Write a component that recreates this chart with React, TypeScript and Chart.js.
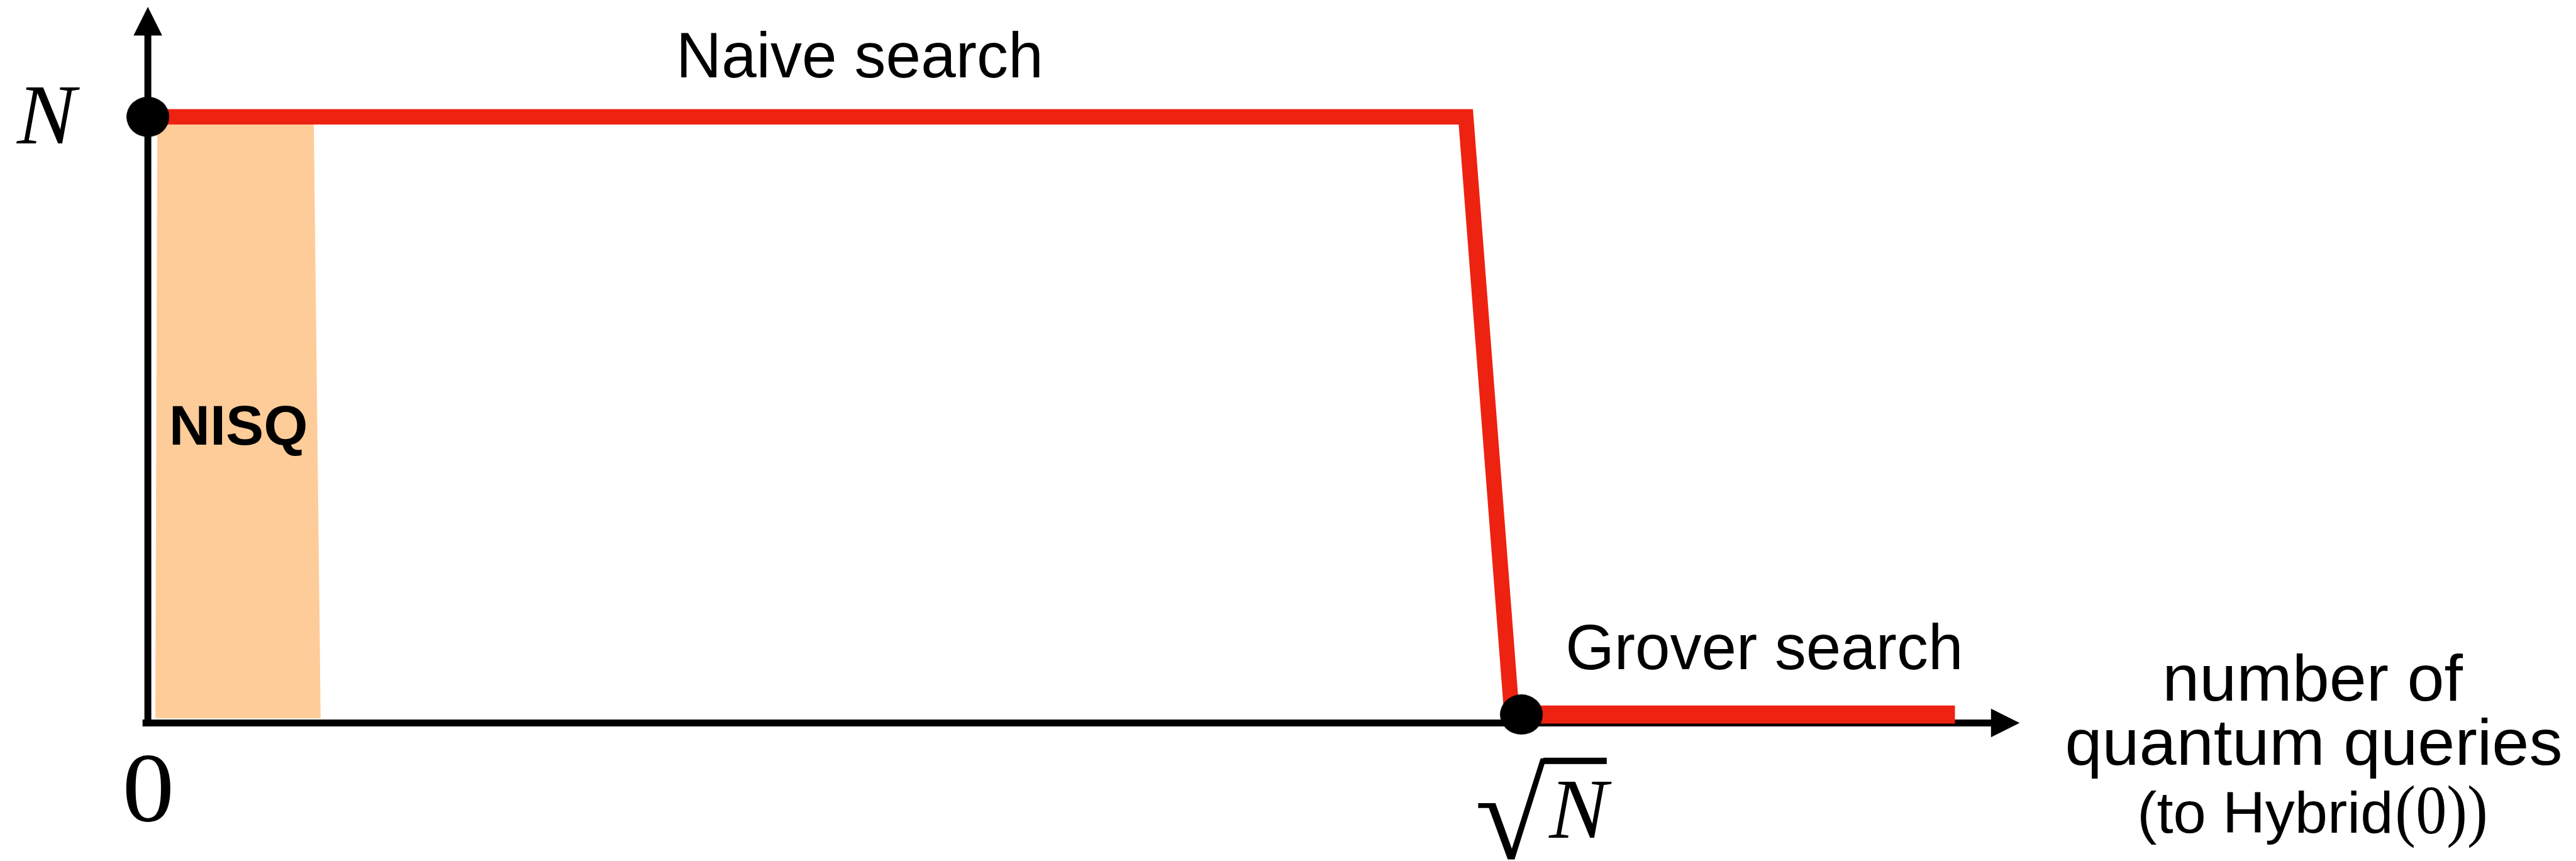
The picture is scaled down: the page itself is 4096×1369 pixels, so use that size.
import { useEffect, useRef } from 'react';
import { Chart, registerables } from 'chart.js';

Chart.register(...registerables);

// Canvas size and the drawing scale relative to the 4861 px design grid
const W = 4096;
const H = 1369;
const S = W / 4861;
const px = (v: number) => v * S;

const RED = '#EE2211';
const PEACH = '#FECC99';
const SANS = "'Liberation Sans', Arial, Helvetica, sans-serif";
const SERIF = "'Liberation Serif', 'Times New Roman', Times, serif";

// x: number of quantum queries (√N = 100), y: remaining classical cost (N = 100)
const naiveQueries = [0, 95.95, 99.3];
const naiveCost = [100, 100, 0];

const groverQueries = [100, 131.56];
const groverCost = [0, 0];

const nisqQueries = [0.54, 0.69, 12.08, 12.58];
const nisqCost = [-0.66, 99.16, 99.16, -0.31];
const NISQ_BASE = -0.66;

const markerQueries = [0, 100];
const markerCost = [100, 0];

// Axis extents
const X_MIN = -10.764;
const X_MAX = 176.775;
const Y_MIN = -24.512;
const Y_MAX = 119.548;

const AXIS_Y = -1.42; // value at which the horizontal axis is drawn
const X_AXIS_START = -0.386;
const X_AXIS_TIP = 136.27;
const Y_AXIS_TIP = 118.4;

// Text labels: anchor (x, baseline) in data units, ink width in design px
const annotationTexts = ['Naive search', 'Grover search', 'NISQ', 'number of', 'quantum queries', '(to Hybrid', '(0))', 'N', '0', 'N'];
const annotationX = [38.81, 103.43, 1.77, 146.94, 139.76, 145.06, 163.77, -9.57, -1.62, 101.97];
const annotationY = [106.6, 7.58, 45.17, 2.35, -8.38, -19.78, -19.86, 95.52, -17.77, -20.57];
const annotationWidth = [677, 738, 252, 561, 930, 471, 166, 120, 85, 120];
const annotationFont = [
  `${px(121)}px ${SANS}`,
  `${px(121)}px ${SANS}`,
  `bold ${px(106)}px ${SANS}`,
  `${px(124)}px ${SANS}`,
  `${px(124)}px ${SANS}`,
  `${px(109)}px ${SANS}`,
  `${px(130)}px ${SERIF}`,
  `italic ${px(161)}px ${SERIF}`,
  `${px(186)}px ${SERIF}`,
  `italic ${px(162)}px ${SERIF}`,
];

// Radical sign box under the √N tick and its vinculum
const RADICAL_X = [96.84, 101.85];
const RADICAL_Y = [-7.23, -24.34];
const VINCULUM_X = [101.6, 106.21];
const VINCULUM_Y = -7.76;

const xy = (xs: number[], ys: number[]) => xs.map((x, i) => ({ x, y: ys[i] }));

function fitText(ctx: CanvasRenderingContext2D, text: string, font: string, inkLeft: number, baseline: number, inkWidth: number) {
  ctx.save();
  ctx.font = font;
  ctx.textAlign = 'left';
  ctx.textBaseline = 'alphabetic';
  const m = ctx.measureText(text);
  const w = m.actualBoundingBoxLeft + m.actualBoundingBoxRight;
  const k = w > 0 ? inkWidth / w : 1;
  ctx.translate(inkLeft + m.actualBoundingBoxLeft * k, baseline);
  ctx.scale(k, 1);
  ctx.fillStyle = '#000';
  ctx.fillText(text, 0, 0);
  ctx.restore();
}

const axesPlugin = {
  id: 'arrowAxes',
  beforeDatasetsDraw(chart: any) {
    const { ctx } = chart;
    const xs = chart.scales.x;
    const ys = chart.scales.y;
    const half = px(13) / 2;
    const head = px(54);
    const wing = px(27);
    const x0 = xs.getPixelForValue(0);
    const yAxis = ys.getPixelForValue(AXIS_Y);
    const yTip = ys.getPixelForValue(Y_AXIS_TIP);
    const xStart = xs.getPixelForValue(X_AXIS_START);
    const xTip = xs.getPixelForValue(X_AXIS_TIP);
    ctx.save();
    ctx.fillStyle = '#000';
    // vertical axis
    ctx.fillRect(x0 - half, yTip + head - 1, 2 * half, yAxis + half - (yTip + head - 1));
    ctx.beginPath();
    ctx.moveTo(x0, yTip);
    ctx.lineTo(x0 - wing, yTip + head);
    ctx.lineTo(x0 + wing, yTip + head);
    ctx.closePath();
    ctx.fill();
    // horizontal axis
    ctx.fillRect(xStart, yAxis - half, xTip - head + 1 - xStart, 2 * half);
    ctx.beginPath();
    ctx.moveTo(xTip, yAxis);
    ctx.lineTo(xTip - head, yAxis - wing);
    ctx.lineTo(xTip - head, yAxis + wing);
    ctx.closePath();
    ctx.fill();
    ctx.restore();
  },
};

const textPlugin = {
  id: 'annotations',
  afterDatasetsDraw(chart: any) {
    const { ctx } = chart;
    const xs = chart.scales.x;
    const ys = chart.scales.y;
    annotationTexts.forEach((t, i) => {
      fitText(ctx, t, annotationFont[i], xs.getPixelForValue(annotationX[i]), ys.getPixelForValue(annotationY[i]), px(annotationWidth[i]));
    });

    // radical sign of √N
    const left = xs.getPixelForValue(RADICAL_X[0]);
    const right = xs.getPixelForValue(RADICAL_X[1]);
    const top = ys.getPixelForValue(RADICAL_Y[0]);
    const bottom = ys.getPixelForValue(RADICAL_Y[1]);
    ctx.save();
    ctx.font = `${px(200)}px ${SERIF}`;
    ctx.textAlign = 'left';
    ctx.textBaseline = 'alphabetic';
    const m = ctx.measureText('√');
    const iw = m.actualBoundingBoxLeft + m.actualBoundingBoxRight;
    const ih = m.actualBoundingBoxAscent + m.actualBoundingBoxDescent;
    const kx = (right - left) / iw;
    const ky = (bottom - top) / ih;
    ctx.translate(left + m.actualBoundingBoxLeft * kx, top + m.actualBoundingBoxAscent * ky);
    ctx.scale(kx, ky);
    ctx.fillStyle = '#000';
    ctx.fillText('√', 0, 0);
    ctx.restore();

    ctx.save();
    ctx.fillStyle = '#000';
    const vy = ys.getPixelForValue(VINCULUM_Y);
    const vx0 = xs.getPixelForValue(VINCULUM_X[0]);
    const vx1 = xs.getPixelForValue(VINCULUM_X[1]);
    ctx.fillRect(vx0, vy - px(12) / 2, vx1 - vx0, px(12));
    ctx.restore();
  },
};

export default function App() {
  const ref = useRef<HTMLCanvasElement>(null);

  useEffect(() => {
    const canvas = ref.current;
    if (!canvas) return;

    const dot = document.createElement('canvas');
    dot.width = Math.round(px(81));
    dot.height = Math.round(px(76));
    const d = dot.getContext('2d')!;
    d.fillStyle = '#000';
    d.beginPath();
    d.ellipse(dot.width / 2, dot.height / 2, dot.width / 2, dot.height / 2, 0, 0, Math.PI * 2);
    d.fill();

    const chart = new Chart(canvas, {
      type: 'line',
      data: {
        datasets: [
          {
            label: 'markers',
            data: xy(markerQueries, markerCost),
            showLine: false,
            pointStyle: dot as any,
            pointRadius: px(40),
            pointHoverRadius: px(40),
            backgroundColor: '#000',
            borderColor: '#000',
            fill: false,
          },
          {
            label: 'Grover search',
            data: xy(groverQueries, groverCost),
            borderColor: RED,
            borderWidth: px(34),
            borderCapStyle: 'butt',
            pointRadius: 0,
            fill: false,
          },
          {
            label: 'Naive search',
            data: xy(naiveQueries, naiveCost),
            borderColor: RED,
            borderWidth: px(29),
            borderJoinStyle: 'miter',
            borderCapStyle: 'butt',
            pointRadius: 0,
            fill: false,
          },
          {
            label: 'NISQ',
            data: xy(nisqQueries, nisqCost),
            borderColor: 'rgba(0,0,0,0)',
            borderWidth: 0,
            backgroundColor: PEACH,
            pointRadius: 0,
            fill: { value: NISQ_BASE },
          },
        ],
      },
      options: {
        animation: false,
        responsive: false,
        maintainAspectRatio: false,
        devicePixelRatio: 1,
        events: [],
        layout: { padding: 0, autoPadding: false },
        elements: { line: { tension: 0 } },
        scales: {
          x: { type: 'linear', min: X_MIN, max: X_MAX, display: false },
          y: { type: 'linear', min: Y_MIN, max: Y_MAX, display: false },
        },
        plugins: {
          legend: { display: false },
          tooltip: { enabled: false },
        },
      },
      plugins: [axesPlugin, textPlugin],
    } as any);

    return () => chart.destroy();
  }, []);

  return (
    <div style={{ position: 'fixed', left: 0, top: 0, width: W, height: H, background: '#fff' }}>
      <canvas ref={ref} width={W} height={H} style={{ width: W, height: H, display: 'block' }} />
    </div>
  );
}
